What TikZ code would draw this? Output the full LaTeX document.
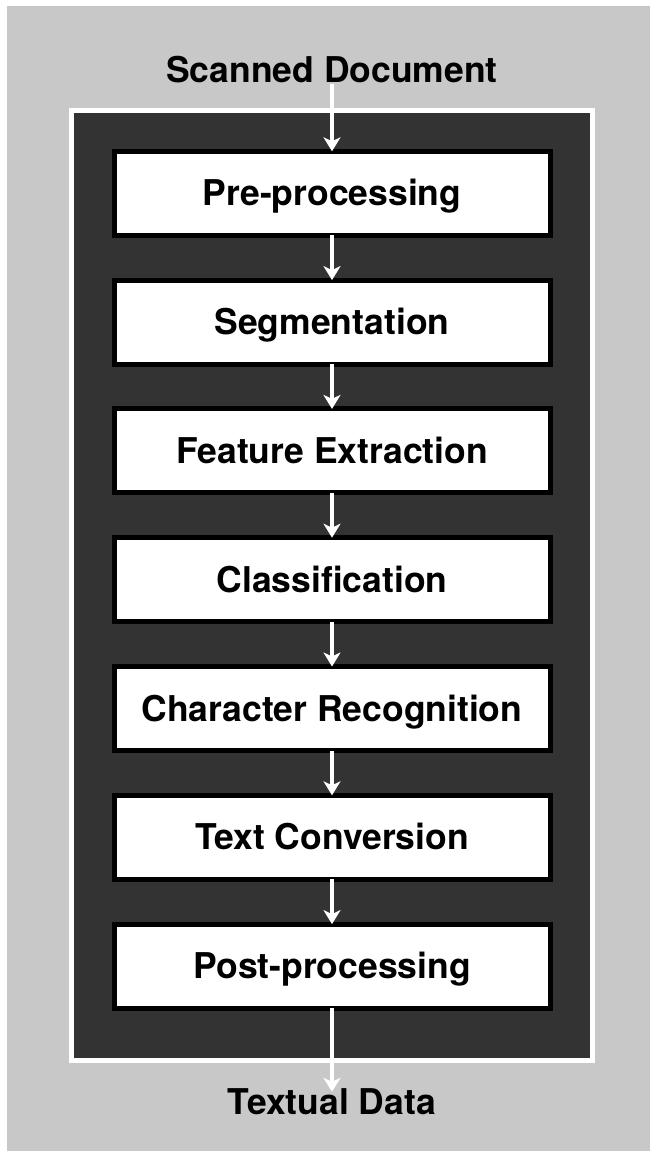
\documentclass[tikz,border=0pt]{standalone}
\usepackage{fontspec}
\setmainfont{TeX Gyre Heros}
\usetikzlibrary{arrows.meta}
\definecolor{bggray}{RGB}{200,200,200}
\definecolor{panel}{RGB}{51,51,51}
\tikzset{
  stage/.style={draw=black, line width=5pt, fill=white, minimum width=436pt, minimum height=84pt,
    inner sep=0pt, font=\fontsize{35.5}{40}\selectfont\bfseries, text height=25pt, text depth=0pt},
  label/.style={font=\fontsize{35.5}{40}\selectfont\bfseries, inner sep=0pt, text=black},
  flow/.style={draw=white, line width=3.5pt, -{Stealth[length=14pt,width=17pt,inset=4pt]}}
}
\begin{document}
\begin{tikzpicture}[x=1pt,y=-1pt]
\useasboundingbox (0,0) rectangle (650,1151);
\fill[white] (0,0) rectangle (650,1151);
\fill[bggray] (7,6) rectangle (650,1151);
\draw[white, line width=5pt, fill=panel] (71.5,110.5) rectangle (592.5,1060.5);
\node[label, anchor=base, text height=25pt, text depth=2pt] (src) at (332,82) {Scanned Document};
\node[stage] (s1) at (332,193.3) {Pre-processing};
\node[stage] (s2) at (332,322.1) {Segmentation};
\node[stage] (s3) at (332,450.9) {Feature Extraction};
\node[stage] (s4) at (332,579.7) {Classification};
\node[stage] (s5) at (332,708.5) {Character Recognition};
\node[stage] (s6) at (332,837.3) {Text Conversion};
\node[stage] (s7) at (332,966.1) {Post-processing};
\node[label, anchor=base, text height=22pt, text depth=0pt] (dst) at (332,1114) {Textual Data};
\draw[flow] (src.south) -- ([yshift=-2.5pt]s1.north);
\draw[flow] ([yshift=2.5pt]s1.south) -- ([yshift=-2.5pt]s2.north);
\draw[flow] ([yshift=2.5pt]s2.south) -- ([yshift=-2.5pt]s3.north);
\draw[flow] ([yshift=2.5pt]s3.south) -- ([yshift=-2.5pt]s4.north);
\draw[flow] ([yshift=2.5pt]s4.south) -- ([yshift=-2.5pt]s5.north);
\draw[flow] ([yshift=2.5pt]s5.south) -- ([yshift=-2.5pt]s6.north);
\draw[flow] ([yshift=2.5pt]s6.south) -- ([yshift=-2.5pt]s7.north);
\draw[flow] ([yshift=2.5pt]s7.south) -- (dst.north);
\end{tikzpicture}
\end{document}
